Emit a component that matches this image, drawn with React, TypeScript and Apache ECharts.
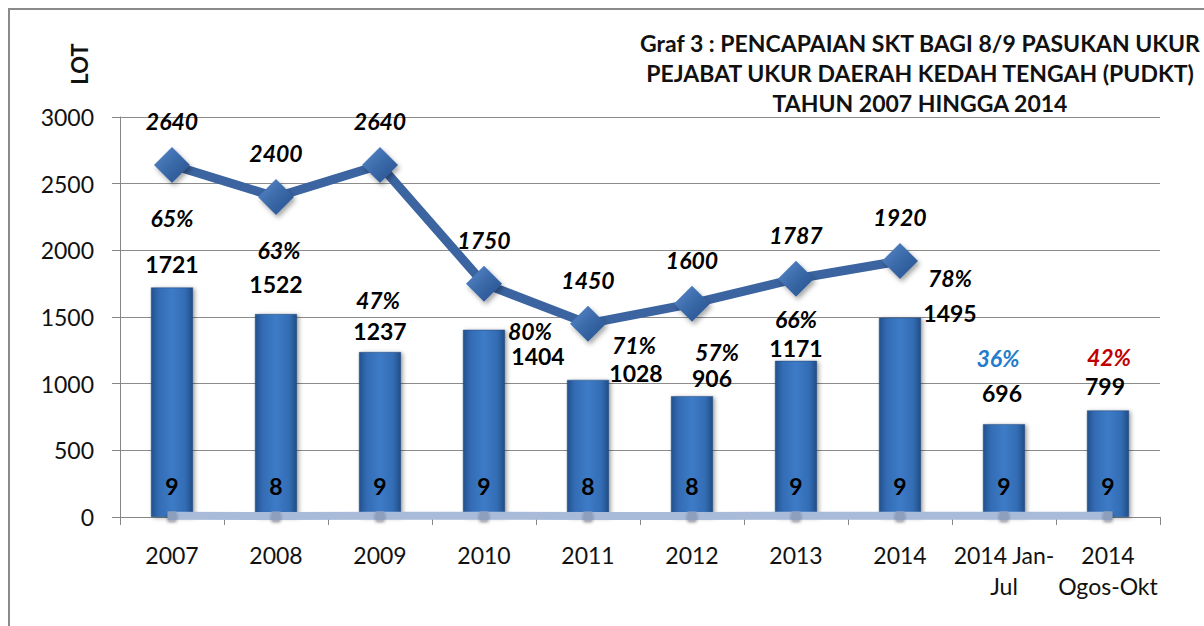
import React, { useEffect, useRef } from "react";
import * as echarts from "echarts";

const categories = ["2007", "2008", "2009", "2010", "2011", "2012", "2013", "2014", "2014 Jan-\nJul", "2014\nOgos-Okt"];
const achieved = [1721, 1522, 1237, 1404, 1028, 906, 1171, 1495, 696, 799];
const target: (number | null)[] = [2640, 2400, 2640, 1750, 1450, 1600, 1787, 1920, null, null];
const teams = [9, 8, 9, 9, 8, 8, 9, 9, 9, 9];
const percent = ["65%", "63%", "47%", "80%", "71%", "57%", "66%", "78%", "36%", "42%"];
const yMin = 0;
const yMax = 3000;
const yStep = 500;

const titleText = "Graf 3 : PENCAPAIAN SKT BAGI 8/9 PASUKAN UKUR\nPEJABAT UKUR DAERAH KEDAH TENGAH (PUDKT)\nTAHUN 2007 HINGGA 2014";
const yName = "LOT";

// label placement (styling, relative to bar center / bar top)
const valueLabelShift = [[0, -24], [0, -30], [0, -21], [54, 26], [48, -7], [20, -18], [0, -13], [50, -5], [-2, -31], [-3, -24]];
const percentLabelShift = [[0, -70], [3, -64], [-2, -52], [46, 1], [46, -35], [25, -44], [0, -42], [50, -40], [-6, -66], [1, -53]];
const percentColors = ["#000", "#000", "#000", "#000", "#000", "#000", "#000", "#000", "#1F7DCB", "#C00000"];

const FONT = "Lato, 'Open Sans', sans-serif";
const BAR_W = 42;

export default function App() {
  const ref = useRef<HTMLDivElement>(null);
  useEffect(() => {
    if (!ref.current) return;
    const chart = echarts.init(ref.current, undefined, { renderer: "svg" });

    const barGrad = new echarts.graphic.LinearGradient(0, 0, 1, 0, [
      { offset: 0, color: "#25508c" },
      { offset: 0.18, color: "#336cb4" },
      { offset: 0.5, color: "#3d7bc7" },
      { offset: 0.82, color: "#336cb4" },
      { offset: 1, color: "#234c87" },
    ]);
    const diamondGrad = new echarts.graphic.LinearGradient(0, 0, 1, 1, [
      { offset: 0, color: "#5a8acb" },
      { offset: 0.5, color: "#3a69a8" },
      { offset: 1, color: "#25508c" },
    ]);

    const valueData = achieved.map((v, i) => ({
      value: v,
      label: {
        position: [BAR_W / 2 + valueLabelShift[i][0], valueLabelShift[i][1]],
      },
    }));
    const pctData = achieved.map((v, i) => ({
      value: v,
      label: {
        position: [BAR_W / 2 + percentLabelShift[i][0], percentLabelShift[i][1]],
        color: percentColors[i],
        formatter: percent[i],
      },
    }));

    chart.setOption({
      animation: false,
      backgroundColor: "#fff",
      grid: { left: 120, right: 44, top: 117, bottom: 109, containLabel: false },
      xAxis: {
        type: "category",
        data: categories,
        axisLine: { show: true, lineStyle: { color: "#868686", width: 1 } },
        axisTick: { show: true, length: 8, lineStyle: { color: "#868686" } },
        axisLabel: { color: "#111", fontFamily: FONT, fontSize: 23, margin: 22, lineHeight: 31, interval: 0 },
        splitLine: { show: false },
      },
      yAxis: {
        type: "value",
        min: yMin,
        max: yMax,
        interval: yStep,
        axisLine: { show: true, lineStyle: { color: "#868686", width: 1 } },
        axisTick: { show: true, length: 8, lineStyle: { color: "#868686" } },
        axisLabel: { color: "#111", fontFamily: FONT, fontSize: 23, margin: 26, formatter: (v: number) => String(v) },
        splitLine: { show: true, lineStyle: { color: "#8c8c8c", width: 1 } },
      },
      graphic: [
        {
          type: "rect",
          shape: { x: 9, y: 9, width: 1400, height: 900 },
          style: { fill: "none", stroke: "#8a8a8a", lineWidth: 2 },
          silent: true,
        },
        {
          type: "text",
          x: 920,
          y: 28,
          style: {
            text: titleText,
            font: `bold 23px ${FONT}`,
            fill: "#111",
            textAlign: "center",
            textVerticalAlign: "top",
            lineHeight: 30,
          },
        },
        {
          type: "text",
          x: 79,
          y: 64,
          rotation: Math.PI / 2,
          style: {
            text: yName,
            font: `bold 22px ${FONT}`,
            fill: "#111",
            textAlign: "center",
            textVerticalAlign: "middle",
          },
        },
      ],
      series: [
        {
          name: "Pencapaian",
          type: "bar",
          data: valueData,
          barWidth: BAR_W,
          z: 2,
          itemStyle: {
            color: barGrad,
            borderColor: "#1f4677",
            borderWidth: 0.5,
            shadowColor: "rgba(0,0,0,0.35)",
            shadowBlur: 4,
            shadowOffsetX: 2,
            shadowOffsetY: 1,
          },
          label: {
            show: true,
            align: "center",
            verticalAlign: "middle",
            color: "#000",
            fontFamily: FONT,
            fontWeight: "bold",
            fontSize: 23,
          },
        },
        {
          name: "Peratus",
          type: "bar",
          data: pctData,
          barWidth: BAR_W,
          barGap: "-100%",
          z: 6,
          silent: true,
          itemStyle: { color: "rgba(0,0,0,0)" },
          label: {
            show: true,
            align: "center",
            verticalAlign: "middle",
            fontFamily: FONT,
            fontWeight: "bold",
            fontStyle: "italic",
            fontSize: 23,
          },
        },
        {
          name: "Sasaran",
          type: "line",
          data: target,
          z: 4,
          symbol: "diamond",
          symbolSize: 36,
          lineStyle: { color: "#3b64a0", width: 9 },
          itemStyle: {
            color: diamondGrad,
            shadowColor: "rgba(0,0,0,0.35)",
            shadowBlur: 5,
            shadowOffsetX: 2,
            shadowOffsetY: 3,
          },
          label: {
            show: true,
            position: "inside",
            offset: [0, -44],
            color: "#000",
            fontFamily: FONT,
            fontWeight: "bold",
            fontStyle: "italic",
            fontSize: 23,
          },
        },
        {
          name: "Pasukan",
          type: "line",
          data: teams,
          z: 5,
          symbol: "rect",
          symbolSize: 9,
          lineStyle: { color: "#a8bbd9", width: 8 },
          itemStyle: {
            color: "#8e9fbd",
            shadowColor: "rgba(0,0,0,0.4)",
            shadowBlur: 3,
            shadowOffsetY: 2,
          },
          label: {
            show: true,
            position: "inside",
            offset: [0, -30],
            color: "#000",
            fontFamily: FONT,
            fontWeight: "bold",
            fontSize: 23,
          },
        },
      ],
    });
    return () => chart.dispose();
  }, []);

  return (
    <div
      ref={ref}
      style={{ position: "absolute", left: 0, top: 0, width: 1204, height: 626, overflow: "hidden" }}
    />
  );
}
